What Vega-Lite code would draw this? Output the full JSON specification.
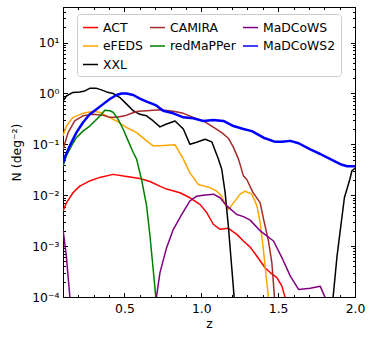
{
  "$schema": "https://vega.github.io/schema/vega-lite/v6.json",
  "width": 292,
  "height": 290,
  "autosize": {"type": "none"},
  "padding": {"left": 63, "top": 7, "right": 19, "bottom": 43},
  "data": {"values": [
    {"s":"ACT","z":0.1,"N":0.0049},{"s":"ACT","z":0.122,"N":0.00708},{"s":"ACT","z":0.165,"N":0.0112},{"s":"ACT","z":0.209,"N":0.0151},{"s":"ACT","z":0.274,"N":0.0191},{"s":"ACT","z":0.339,"N":0.0224},{"s":"ACT","z":0.426,"N":0.0257},{"s":"ACT","z":0.514,"N":0.0234},{"s":"ACT","z":0.6,"N":0.0214},{"s":"ACT","z":0.666,"N":0.0186},{"s":"ACT","z":0.73,"N":0.0151},{"s":"ACT","z":0.774,"N":0.0132},{"s":"ACT","z":0.861,"N":0.0112},{"s":"ACT","z":0.926,"N":0.00891},{"s":"ACT","z":0.991,"N":0.00661},{"s":"ACT","z":1.035,"N":0.00457},{"s":"ACT","z":1.078,"N":0.00269},{"s":"ACT","z":1.122,"N":0.00214},{"s":"ACT","z":1.176,"N":0.00224},{"s":"ACT","z":1.231,"N":0.0017},{"s":"ACT","z":1.274,"N":0.00126},{"s":"ACT","z":1.318,"N":0.000955},{"s":"ACT","z":1.362,"N":0.000631},{"s":"ACT","z":1.416,"N":0.000372},{"s":"ACT","z":1.448,"N":0.000302},{"s":"ACT","z":1.492,"N":0.00024},{"s":"ACT","z":1.525,"N":0.000162},{"s":"ACT","z":1.546,"N":0.0000955},{"s":"ACT","z":1.56,"N":0.00002},
    {"s":"eFEDS","z":0.1,"N":0.148},{"s":"eFEDS","z":0.122,"N":0.229},{"s":"eFEDS","z":0.165,"N":0.339},{"s":"eFEDS","z":0.23,"N":0.407},{"s":"eFEDS","z":0.296,"N":0.447},{"s":"eFEDS","z":0.339,"N":0.427},{"s":"eFEDS","z":0.383,"N":0.363},{"s":"eFEDS","z":0.448,"N":0.288},{"s":"eFEDS","z":0.514,"N":0.214},{"s":"eFEDS","z":0.579,"N":0.17},{"s":"eFEDS","z":0.644,"N":0.117},{"s":"eFEDS","z":0.687,"N":0.0933},{"s":"eFEDS","z":0.731,"N":0.0933},{"s":"eFEDS","z":0.829,"N":0.0977},{"s":"eFEDS","z":0.883,"N":0.0513},{"s":"eFEDS","z":0.926,"N":0.0275},{"s":"eFEDS","z":0.981,"N":0.0162},{"s":"eFEDS","z":1.057,"N":0.0141},{"s":"eFEDS","z":1.1,"N":0.012},{"s":"eFEDS","z":1.133,"N":0.00955},{"s":"eFEDS","z":1.155,"N":0.00661},{"s":"eFEDS","z":1.176,"N":0.00525},{"s":"eFEDS","z":1.209,"N":0.00708},{"s":"eFEDS","z":1.253,"N":0.0105},{"s":"eFEDS","z":1.285,"N":0.012},{"s":"eFEDS","z":1.329,"N":0.0105},{"s":"eFEDS","z":1.362,"N":0.00617},{"s":"eFEDS","z":1.383,"N":0.00288},{"s":"eFEDS","z":1.405,"N":0.000794},{"s":"eFEDS","z":1.422,"N":0.000251},{"s":"eFEDS","z":1.437,"N":0.0000955},{"s":"eFEDS","z":1.45,"N":0.00002},
    {"s":"XXL","z":0.1,"N":0.708},{"s":"XXL","z":0.122,"N":0.891},{"s":"XXL","z":0.165,"N":1.047},{"s":"XXL","z":0.209,"N":1.072},{"s":"XXL","z":0.242,"N":1.122},{"s":"XXL","z":0.274,"N":1.259},{"s":"XXL","z":0.318,"N":1.259},{"s":"XXL","z":0.35,"N":1.175},{"s":"XXL","z":0.383,"N":1.072},{"s":"XXL","z":0.426,"N":1.0},{"s":"XXL","z":0.47,"N":0.832},{"s":"XXL","z":0.514,"N":0.617},{"s":"XXL","z":0.557,"N":0.457},{"s":"XXL","z":0.6,"N":0.389},{"s":"XXL","z":0.644,"N":0.363},{"s":"XXL","z":0.687,"N":0.288},{"s":"XXL","z":0.731,"N":0.22},{"s":"XXL","z":0.774,"N":0.251},{"s":"XXL","z":0.829,"N":0.288},{"s":"XXL","z":0.883,"N":0.2},{"s":"XXL","z":0.926,"N":0.1},{"s":"XXL","z":0.97,"N":0.11},{"s":"XXL","z":1.024,"N":0.126},{"s":"XXL","z":1.068,"N":0.112},{"s":"XXL","z":1.111,"N":0.0513},{"s":"XXL","z":1.133,"N":0.0324},{"s":"XXL","z":1.155,"N":0.0112},{"s":"XXL","z":1.176,"N":0.00245},{"s":"XXL","z":1.199,"N":0.000347},{"s":"XXL","z":1.213,"N":0.000105},{"s":"XXL","z":1.23,"N":0.00001},{"s":"XXL","z":1.84,"N":0.00001},{"s":"XXL","z":1.857,"N":0.0000955},{"s":"XXL","z":1.883,"N":0.000631},{"s":"XXL","z":1.905,"N":0.00214},{"s":"XXL","z":1.931,"N":0.00891},{"s":"XXL","z":1.966,"N":0.0204},{"s":"XXL","z":1.98,"N":0.0302},{"s":"XXL","z":2.0,"N":0.0339},
    {"s":"CAMIRA","z":0.1,"N":0.0794},{"s":"CAMIRA","z":0.133,"N":0.17},{"s":"CAMIRA","z":0.176,"N":0.288},{"s":"CAMIRA","z":0.23,"N":0.363},{"s":"CAMIRA","z":0.296,"N":0.389},{"s":"CAMIRA","z":0.361,"N":0.372},{"s":"CAMIRA","z":0.405,"N":0.339},{"s":"CAMIRA","z":0.448,"N":0.339},{"s":"CAMIRA","z":0.502,"N":0.363},{"s":"CAMIRA","z":0.546,"N":0.407},{"s":"CAMIRA","z":0.589,"N":0.447},{"s":"CAMIRA","z":0.644,"N":0.457},{"s":"CAMIRA","z":0.731,"N":0.479},{"s":"CAMIRA","z":0.818,"N":0.447},{"s":"CAMIRA","z":0.883,"N":0.407},{"s":"CAMIRA","z":0.948,"N":0.339},{"s":"CAMIRA","z":1.013,"N":0.288},{"s":"CAMIRA","z":1.078,"N":0.219},{"s":"CAMIRA","z":1.133,"N":0.17},{"s":"CAMIRA","z":1.176,"N":0.132},{"s":"CAMIRA","z":1.209,"N":0.0871},{"s":"CAMIRA","z":1.242,"N":0.0513},{"s":"CAMIRA","z":1.274,"N":0.024},{"s":"CAMIRA","z":1.296,"N":0.0204},{"s":"CAMIRA","z":1.335,"N":0.0115},{"s":"CAMIRA","z":1.383,"N":0.00708},{"s":"CAMIRA","z":1.405,"N":0.0034},{"s":"CAMIRA","z":1.437,"N":0.00126},{"s":"CAMIRA","z":1.459,"N":0.00047},{"s":"CAMIRA","z":1.476,"N":0.0001},{"s":"CAMIRA","z":1.49,"N":0.00002},
    {"s":"redMaPPer","z":0.1,"N":0.038},{"s":"redMaPPer","z":0.122,"N":0.0589},{"s":"redMaPPer","z":0.155,"N":0.0933},{"s":"redMaPPer","z":0.187,"N":0.135},{"s":"redMaPPer","z":0.23,"N":0.182},{"s":"redMaPPer","z":0.274,"N":0.229},{"s":"redMaPPer","z":0.318,"N":0.309},{"s":"redMaPPer","z":0.35,"N":0.389},{"s":"redMaPPer","z":0.372,"N":0.468},{"s":"redMaPPer","z":0.405,"N":0.457},{"s":"redMaPPer","z":0.426,"N":0.427},{"s":"redMaPPer","z":0.459,"N":0.309},{"s":"redMaPPer","z":0.491,"N":0.2},{"s":"redMaPPer","z":0.524,"N":0.117},{"s":"redMaPPer","z":0.557,"N":0.0692},{"s":"redMaPPer","z":0.579,"N":0.0513},{"s":"redMaPPer","z":0.611,"N":0.0204},{"s":"redMaPPer","z":0.644,"N":0.00617},{"s":"redMaPPer","z":0.666,"N":0.00158},{"s":"redMaPPer","z":0.687,"N":0.000347},{"s":"redMaPPer","z":0.703,"N":0.000105},{"s":"redMaPPer","z":0.715,"N":0.00001},
    {"s":"MaDCoWS","z":0.1,"N":0.00214},{"s":"MaDCoWS","z":0.122,"N":0.000631},{"s":"MaDCoWS","z":0.144,"N":0.000105},{"s":"MaDCoWS","z":0.16,"N":0.00001},{"s":"MaDCoWS","z":0.69,"N":0.00001},{"s":"MaDCoWS","z":0.709,"N":0.000105},{"s":"MaDCoWS","z":0.731,"N":0.000302},{"s":"MaDCoWS","z":0.774,"N":0.000933},{"s":"MaDCoWS","z":0.818,"N":0.00214},{"s":"MaDCoWS","z":0.872,"N":0.00417},{"s":"MaDCoWS","z":0.926,"N":0.00776},{"s":"MaDCoWS","z":0.97,"N":0.00955},{"s":"MaDCoWS","z":1.013,"N":0.01},{"s":"MaDCoWS","z":1.078,"N":0.0105},{"s":"MaDCoWS","z":1.122,"N":0.00891},{"s":"MaDCoWS","z":1.166,"N":0.00617},{"s":"MaDCoWS","z":1.231,"N":0.00417},{"s":"MaDCoWS","z":1.274,"N":0.0038},{"s":"MaDCoWS","z":1.318,"N":0.00324},{"s":"MaDCoWS","z":1.383,"N":0.002},{"s":"MaDCoWS","z":1.47,"N":0.00126},{"s":"MaDCoWS","z":1.525,"N":0.000589},{"s":"MaDCoWS","z":1.579,"N":0.000257},{"s":"MaDCoWS","z":1.633,"N":0.000141},{"s":"MaDCoWS","z":1.709,"N":0.000148},{"s":"MaDCoWS","z":1.774,"N":0.000162},{"s":"MaDCoWS","z":1.807,"N":0.0000955},{"s":"MaDCoWS","z":1.82,"N":0.00002},
    {"s":"MaDCoWS2","z":0.1,"N":0.0427},{"s":"MaDCoWS2","z":0.111,"N":0.055},{"s":"MaDCoWS2","z":0.144,"N":0.0933},{"s":"MaDCoWS2","z":0.187,"N":0.17},{"s":"MaDCoWS2","z":0.23,"N":0.269},{"s":"MaDCoWS2","z":0.274,"N":0.389},{"s":"MaDCoWS2","z":0.318,"N":0.49},{"s":"MaDCoWS2","z":0.361,"N":0.617},{"s":"MaDCoWS2","z":0.405,"N":0.776},{"s":"MaDCoWS2","z":0.448,"N":0.933},{"s":"MaDCoWS2","z":0.481,"N":1.0},{"s":"MaDCoWS2","z":0.514,"N":1.0},{"s":"MaDCoWS2","z":0.557,"N":0.933},{"s":"MaDCoWS2","z":0.6,"N":0.794},{"s":"MaDCoWS2","z":0.644,"N":0.692},{"s":"MaDCoWS2","z":0.687,"N":0.617},{"s":"MaDCoWS2","z":0.709,"N":0.575},{"s":"MaDCoWS2","z":0.752,"N":0.457},{"s":"MaDCoWS2","z":0.818,"N":0.407},{"s":"MaDCoWS2","z":0.883,"N":0.339},{"s":"MaDCoWS2","z":0.948,"N":0.324},{"s":"MaDCoWS2","z":1.013,"N":0.288},{"s":"MaDCoWS2","z":1.078,"N":0.302},{"s":"MaDCoWS2","z":1.144,"N":0.288},{"s":"MaDCoWS2","z":1.209,"N":0.229},{"s":"MaDCoWS2","z":1.274,"N":0.2},{"s":"MaDCoWS2","z":1.329,"N":0.182},{"s":"MaDCoWS2","z":1.405,"N":0.135},{"s":"MaDCoWS2","z":1.481,"N":0.112},{"s":"MaDCoWS2","z":1.525,"N":0.112},{"s":"MaDCoWS2","z":1.579,"N":0.117},{"s":"MaDCoWS2","z":1.633,"N":0.105},{"s":"MaDCoWS2","z":1.709,"N":0.0794},{"s":"MaDCoWS2","z":1.774,"N":0.0646},{"s":"MaDCoWS2","z":1.84,"N":0.0513},{"s":"MaDCoWS2","z":1.905,"N":0.0407},{"s":"MaDCoWS2","z":1.949,"N":0.0372},{"s":"MaDCoWS2","z":2.0,"N":0.0372}
  ]},
  "layer": [
    {
      "mark": {"type": "line", "clip": true, "strokeJoin": "round"},
      "encoding": {
        "x": {"field": "z", "type": "quantitative", "scale": {"domain": [0.1, 2.0], "nice": false, "zero": false},
              "axis": {"orient": "bottom", "values": [0.5, 1.0, 1.5, 2.0], "format": ".1f", "ticks": false, "domain": false, "labelPadding": 5, "labelFlush": false, "title": "z", "titlePadding": 3}},
        "y": {"field": "N", "type": "quantitative", "scale": {"type": "log", "domain": [0.0001, 50], "nice": false},
              "axis": {"orient": "left", "values": [0.0001, 0.001, 0.01, 0.1, 1, 10], "ticks": false, "domain": false, "labelPadding": 4, "labelFlush": false,
                       "labelExpr": "datum.value < 0.0005 ? '10⁻⁴' : datum.value < 0.005 ? '10⁻³' : datum.value < 0.05 ? '10⁻²' : datum.value < 0.5 ? '10⁻¹' : datum.value < 5 ? '10⁰' : '10¹'",
                       "title": "N (deg⁻²)", "titlePadding": 8}},
        "color": {"field": "s", "type": "nominal",
                  "scale": {"domain": ["ACT", "CAMIRA", "MaDCoWS", "eFEDS", "redMaPPer", "MaDCoWS2", "XXL"],
                            "range": ["#ff0000", "#a52a2a", "#800080", "#ffa500", "#008000", "#0000ff", "#000000"]},
                  "legend": {"title": null, "orient": "none", "direction": "horizontal", "legendX": 14, "legendY": 7, "columns": 3, "gridAlign": "each"}},
        "strokeWidth": {"condition": {"test": "datum.s === 'MaDCoWS2'", "value": 2.5}, "value": 1.5}
      }
    },
    {
      "mark": {"type": "line", "opacity": 0},
      "encoding": {
        "x": {"field": "z", "type": "quantitative", "axis": {"orient": "bottom", "values": [0.5, 1.0, 1.5, 2.0], "tickSize": -4.5, "labels": false, "domain": false, "title": null, "grid": false}},
        "y": {"field": "N", "type": "quantitative", "axis": {"orient": "left", "values": [0.0001, 0.001, 0.01, 0.1, 1, 10], "tickSize": -4.5, "labels": false, "domain": false, "title": null, "grid": false}}
      }
    },
    {
      "mark": {"type": "line", "opacity": 0},
      "encoding": {
        "x": {"field": "z", "type": "quantitative", "axis": {"orient": "bottom", "values": [0.1, 0.2, 0.3, 0.4, 0.6, 0.7, 0.8, 0.9, 1.1, 1.2, 1.3, 1.4, 1.6, 1.7, 1.8, 1.9], "tickSize": -2.5, "labels": false, "domain": false, "title": null, "grid": false}},
        "y": {"field": "N", "type": "quantitative", "axis": {"orient": "left", "values": [0.0002, 0.0003, 0.0004, 0.0005, 0.0006, 0.0007, 0.0008, 0.0009, 0.002, 0.003, 0.004, 0.005, 0.006, 0.007, 0.008, 0.009, 0.02, 0.03, 0.04, 0.05, 0.06, 0.07, 0.08, 0.09, 0.2, 0.3, 0.4, 0.5, 0.6, 0.7, 0.8, 0.9, 2, 3, 4, 5, 6, 7, 8, 9, 20, 30, 40, 50], "tickSize": -2.5, "labels": false, "domain": false, "title": null, "grid": false}}
      }
    },
    {
      "mark": {"type": "line", "opacity": 0},
      "encoding": {
        "x": {"field": "z", "type": "quantitative", "axis": {"orient": "top", "values": [0.5, 1.0, 1.5, 2.0], "tickSize": -4.5, "labels": false, "domain": false, "title": null, "grid": false}},
        "y": {"field": "N", "type": "quantitative", "axis": {"orient": "right", "values": [0.0001, 0.001, 0.01, 0.1, 1, 10], "tickSize": -4.5, "labels": false, "domain": false, "title": null, "grid": false}}
      }
    },
    {
      "mark": {"type": "line", "opacity": 0},
      "encoding": {
        "x": {"field": "z", "type": "quantitative", "axis": {"orient": "top", "values": [0.1, 0.2, 0.3, 0.4, 0.6, 0.7, 0.8, 0.9, 1.1, 1.2, 1.3, 1.4, 1.6, 1.7, 1.8, 1.9], "tickSize": -2.5, "labels": false, "domain": false, "title": null, "grid": false}},
        "y": {"field": "N", "type": "quantitative", "axis": {"orient": "right", "values": [0.0002, 0.0003, 0.0004, 0.0005, 0.0006, 0.0007, 0.0008, 0.0009, 0.002, 0.003, 0.004, 0.005, 0.006, 0.007, 0.008, 0.009, 0.02, 0.03, 0.04, 0.05, 0.06, 0.07, 0.08, 0.09, 0.2, 0.3, 0.4, 0.5, 0.6, 0.7, 0.8, 0.9, 2, 3, 4, 5, 6, 7, 8, 9, 20, 30, 40, 50], "tickSize": -2.5, "labels": false, "domain": false, "title": null, "grid": false}}
      }
    }
  ],
  "resolve": {"axis": {"x": "independent", "y": "independent"}},
  "config": {
    "font": "DejaVu Sans",
    "view": {"stroke": "#000000", "strokeWidth": 1},
    "axis": {"grid": false, "labelFont": "DejaVu Sans", "labelFontSize": 12.4, "labelColor": "#000000", "titleFont": "DejaVu Sans", "titleFontSize": 12.4, "titleFontWeight": "normal", "titleColor": "#000000", "tickColor": "#000000", "tickWidth": 1},
    "legend": {"labelFont": "DejaVu Sans", "labelFontSize": 12.4, "labelColor": "#000000", "symbolType": "stroke", "symbolSize": 225, "labelOffset": 4, "padding": 5, "rowPadding": 3.5, "columnPadding": 4, "gridAlign": "each", "strokeColor": "#cccccc", "cornerRadius": 3, "fillColor": "rgba(255,255,255,0.8)", "symbolStrokeWidth": 1.5}
  }
}
